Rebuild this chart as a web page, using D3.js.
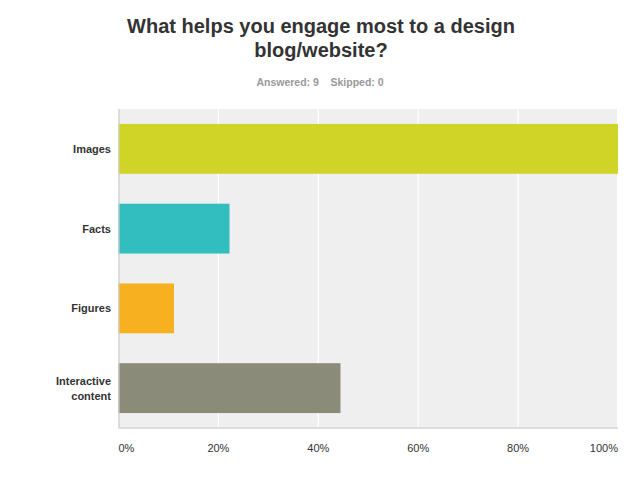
<!DOCTYPE html>
<html><head><meta charset="utf-8">
<script src="https://cdn.jsdelivr.net/npm/d3@7"></script>
<style>
body{margin:0;background:#fff;}
text{font-family:"Liberation Sans",Arial,Helvetica,sans-serif;}
</style></head>
<body>
<svg id="chart" width="639" height="487"></svg>
<script>
const titleLines = ["What helps you engage most to a design", "blog/website?"];
const subtitle = "Answered: 9    Skipped: 0";
const categories = [["Images"], ["Facts"], ["Figures"], ["Interactive", "content"]];
const values = [100, 22.22, 11.11, 44.44];
const colors = ["#CFD427", "#32BEBF", "#F7B120", "#8B8B7A"];
const ticks = [0, 20, 40, 60, 80, 100];
const tickLabels = ["0%", "20%", "40%", "60%", "80%", "100%"];

const svg = d3.select("#chart");
const m = {left: 118.5, right: 618, top: 109, bottom: 428};
const x = d3.scaleLinear().domain([0, 100]).range([m.left, m.right]);
const y = d3.scaleBand().domain(d3.range(categories.length)).range([m.top, m.bottom]).paddingInner(0.375).paddingOuter(0.1875);

// title
svg.append("text").attr("x", 321).attr("y", 33).attr("text-anchor", "middle")
  .attr("font-size", 20).attr("font-weight", "bold").attr("fill", "#333")
  .selectAll("tspan").data(titleLines).join("tspan")
  .attr("x", 321).attr("dy", (d, i) => i === 0 ? 0 : 23.5).text(d => d);
svg.append("text").attr("x", 320).attr("y", 86).attr("text-anchor", "middle")
  .attr("font-size", 10.5).attr("font-weight", "bold").attr("fill", "#999")
  .attr("xml:space", "preserve").style("white-space", "pre").text(subtitle);

// plot background
svg.append("rect").attr("x", m.left).attr("y", m.top).attr("width", x(100) - m.left - 1).attr("height", m.bottom - m.top).attr("fill", "#EFEFEF");

// gridlines
svg.append("g").selectAll("line").data(ticks.slice(1, -1)).join("line")
  .attr("x1", d => x(d)).attr("x2", d => x(d)).attr("y1", m.top).attr("y2", m.bottom)
  .attr("stroke", "#fff").attr("stroke-width", 1.2);

// bars
svg.append("g").selectAll("rect").data(values).join("rect")
  .attr("x", x(0)).attr("y", (d, i) => y(i)).attr("width", d => x(d) - x(0)).attr("height", y.bandwidth())
  .attr("fill", (d, i) => colors[i]);

// axis lines
svg.append("line").attr("x1", m.left + 0.5).attr("x2", m.left + 0.5).attr("y1", m.top).attr("y2", m.bottom).attr("stroke", "#ccc").attr("stroke-width", 1.2);
svg.append("line").attr("x1", m.left).attr("x2", m.right).attr("y1", m.bottom).attr("y2", m.bottom).attr("stroke", "#ddd").attr("stroke-width", 2);

// x tick labels
svg.append("g").selectAll("text").data(ticks).join("text")
  .attr("x", d => x(d)).attr("y", 452)
  .attr("text-anchor", (d, i) => i === 0 ? "start" : (i === ticks.length - 1 ? "end" : "middle"))
  .attr("font-size", 11).attr("fill", "#333").text((d, i) => tickLabels[i]);

// category labels
svg.append("g").selectAll("text").data(categories).join("text")
  .attr("x", 111).attr("text-anchor", "end").attr("font-size", 11).attr("font-weight", "bold").attr("fill", "#333")
  .attr("y", (d, i) => y(i) + y.bandwidth() / 2 + 4 - (d.length - 1) * 7)
  .each(function(d) {
    d3.select(this).selectAll("tspan").data(d).join("tspan")
      .attr("x", 111).attr("dy", (t, j) => j === 0 ? 0 : 14.5).text(t => t);
  });
</script>
</body></html>
